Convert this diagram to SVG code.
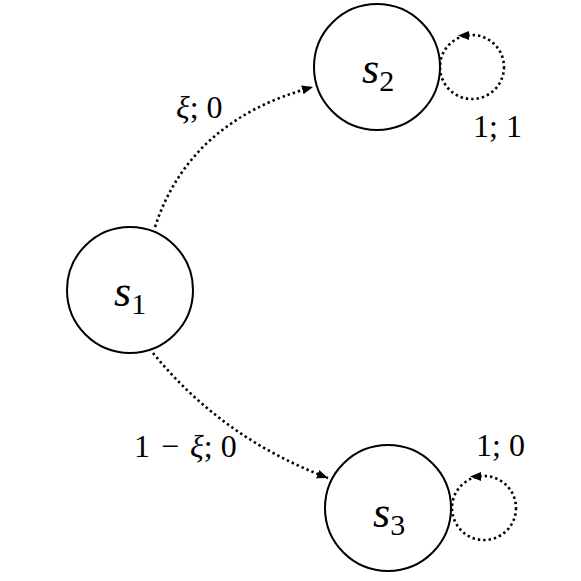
<svg xmlns="http://www.w3.org/2000/svg" width="581" height="581" viewBox="0 0 581 581">
<defs>
<marker id="ah" markerWidth="12" markerHeight="10" refX="11" refY="5" orient="auto" markerUnits="userSpaceOnUse">
<path d="M0,0.5 L11,5 L0,9.5 Z" fill="#000"/>
</marker>
</defs>
<rect width="581" height="581" fill="#fff"/>
<g id="connectors" fill="none" stroke="#000" stroke-width="2.6" stroke-dasharray="2.4 3">
<path d="M155,227 Q190,120 313,87" marker-end="url(#ah)"/>
<path d="M153,353 Q222,438 328,478" marker-end="url(#ah)"/>
<circle cx="472" cy="67" r="32"/>
<path d="M458,35.5 L469,31 L469,40 Z" fill="#000" stroke="none"/>
<circle cx="484" cy="508" r="32"/>
<path d="M470,476.5 L481,472 L481,481 Z" fill="#000" stroke="none"/>
</g>
<g id="s1">
<circle cx="130" cy="290" r="63" fill="#fff" stroke="#000" stroke-width="2"/>
<text x="114" y="306" font-family="Liberation Serif" font-size="44" font-style="italic">s<tspan font-style="normal" font-size="30" dy="8">1</tspan></text>
</g>
<g id="s2">
<circle cx="377" cy="67" r="63" fill="#fff" stroke="#000" stroke-width="2"/>
<text x="362" y="83" font-family="Liberation Serif" font-size="44" font-style="italic">s<tspan font-style="normal" font-size="30" dy="8">2</tspan></text>
</g>
<g id="s3">
<circle cx="388" cy="508" r="63" fill="#fff" stroke="#000" stroke-width="2"/>
<text x="373" y="527" font-family="Liberation Serif" font-size="44" font-style="italic">s<tspan font-style="normal" font-size="30" dy="8">3</tspan></text>
</g>
<g id="labels">
<text x="176" y="118" font-family="Liberation Serif" font-size="32"><tspan font-style="italic">ξ</tspan>; 0</text>
<text x="134" y="457" font-family="Liberation Serif" font-size="32">1 <tspan dx="3">−</tspan> <tspan dx="3" font-style="italic">ξ</tspan>; 0</text>
<text x="473" y="137" font-family="Liberation Serif" font-size="32">1; 1</text>
<text x="476" y="456" font-family="Liberation Serif" font-size="32">1; 0</text>
</g>
</svg>
